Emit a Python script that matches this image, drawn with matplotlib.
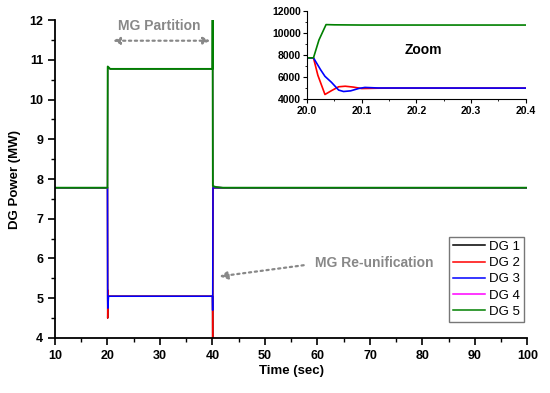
import matplotlib.pyplot as plt
from matplotlib.ticker import MultipleLocator

plt.rcParams['font.family'] = ['Liberation Sans', 'DejaVu Sans']

# main traces (MW)
t_low = [10, 20.0, 20.03, 20.07, 20.1, 20.2, 40.0, 40.03, 40.1, 100]
dg2 = [7.78, 7.78, 4.5, 5.2, 5.0, 5.05, 5.05, 4.0, 7.78, 7.78]
dg1 = [7.78, 7.78, 4.5, 5.2, 5.0, 5.05, 5.05, 4.0, 7.78, 7.78]
t_dg3 = [10, 20.0, 20.03, 20.06, 20.2, 40.0, 40.03, 40.1, 100]
dg3 = [7.78, 7.78, 5.0, 4.75, 5.05, 5.05, 4.7, 7.78, 7.78]
t_high = [10, 20.0, 20.05, 20.5, 40.0, 40.03, 40.08, 40.6, 42, 100]
dg5 = [7.78, 7.78, 10.83, 10.77, 10.77, 12.0, 7.82, 7.8, 7.78, 7.78]
dg4 = [7.78, 7.78, 10.83, 10.77, 10.77, 12.0, 7.82, 7.8, 7.78, 7.78]

# zoomed traces (kW)
zt_green = [20.0, 20.012, 20.022, 20.035, 20.05, 20.1, 20.4]
z_green = [7780, 7780, 9400, 10800, 10780, 10760, 10760]
zt_red = [20.0, 20.012, 20.02, 20.033, 20.045, 20.058, 20.07, 20.085, 20.1, 20.13, 20.16, 20.4]
z_red = [7780, 7780, 6200, 4450, 4800, 5150, 5200, 5120, 4990, 5020, 5030, 5030]
zt_blue = [20.0, 20.012, 20.025, 20.033, 20.045, 20.058, 20.067, 20.08, 20.095, 20.106, 20.13, 20.4]
z_blue = [7780, 7780, 6700, 6100, 5550, 4850, 4720, 4780, 5000, 5090, 5040, 5030]

labels = ['DG 1', 'DG 2', 'DG 3', 'DG 4', 'DG 5']
colors = ['black', 'red', 'blue', 'magenta', 'green']

fig = plt.figure(figsize=(5.5, 3.93), dpi=100)
ax = fig.add_axes([0.1, 0.14, 0.859, 0.809])

ax.plot(t_low, dg1, color=colors[0], lw=1.0, label=labels[0])
ax.plot(t_low, dg2, color=colors[1], lw=1.0, label=labels[1])
ax.plot(t_dg3, dg3, color=colors[2], lw=1.1, label=labels[2])
ax.plot(t_high, dg4, color=colors[3], lw=1.0, label=labels[3])
ax.plot(t_high, dg5, color=colors[4], lw=1.4, label=labels[4])

ax.set_xlim(10, 100)
ax.set_ylim(4, 12)
ax.xaxis.set_major_locator(MultipleLocator(10))
ax.xaxis.set_minor_locator(MultipleLocator(5))
ax.yaxis.set_major_locator(MultipleLocator(1))
ax.yaxis.set_minor_locator(MultipleLocator(0.5))
for s in ['top', 'right']:
    ax.spines[s].set_visible(False)
for s in ['left', 'bottom']:
    ax.spines[s].set_linewidth(1.3)
ax.tick_params(which='major', length=5, width=1.2, labelsize=9)
ax.tick_params(which='minor', length=3, width=1.0)
for lab in ax.get_xticklabels() + ax.get_yticklabels():
    lab.set_fontweight('bold')
ax.set_xlabel('Time (sec)', fontsize=9.5, fontweight='bold', labelpad=2)
ax.set_ylabel('DG Power (MW)', fontsize=9.5, fontweight='bold', labelpad=6)

leg = ax.legend(loc='lower right', bbox_to_anchor=(0.992, 0.051), borderaxespad=0,
                fontsize=9.5, handlelength=2.4, handletextpad=0.3, labelspacing=0.3,
                borderpad=0.3, fancybox=False, framealpha=1)
leg.get_frame().set_edgecolor('#777777')
leg.get_frame().set_linewidth(1.0)
for line in leg.get_lines():
    line.set_linewidth(1.1)

grey = '#888888'
ax.text(29.9, 11.85, 'MG Partition', color=grey, fontsize=10, fontweight='bold',
        ha='center', va='center')
ax.annotate('', xy=(20.5, 11.48), xytext=(40.1, 11.48),
            arrowprops=dict(arrowstyle='<|-|>', color=grey, lw=1.6, ls=':',
                            mutation_scale=10))
ax.text(70.8, 5.89, 'MG Re-unification', color=grey, fontsize=10, fontweight='bold',
        ha='center', va='center')
ax.annotate('', xy=(40.8, 5.54), xytext=(57.9, 5.84),
            arrowprops=dict(arrowstyle='-|>', color=grey, lw=1.6, ls=':',
                            mutation_scale=12))

# inset
axi = fig.add_axes([0.558, 0.747, 0.398, 0.224])
axi.plot(zt_red, z_red, color='red', lw=1.2)
axi.plot(zt_blue, z_blue, color='blue', lw=1.2)
axi.plot(zt_green, z_green, color='green', lw=1.2)
axi.set_xlim(20.0, 20.4)
axi.set_ylim(4000, 12000)
axi.xaxis.set_major_locator(MultipleLocator(0.1))
axi.xaxis.set_minor_locator(MultipleLocator(0.05))
axi.yaxis.set_major_locator(MultipleLocator(2000))
axi.yaxis.set_minor_locator(MultipleLocator(1000))
axi.xaxis.set_major_formatter(plt.FormatStrFormatter('%.1f'))
for s in ['top', 'right']:
    axi.spines[s].set_visible(False)
axi.tick_params(which='major', length=3, width=0.8, labelsize=7.5, pad=1.5)
axi.tick_params(which='minor', length=1.5, width=0.6)
for lab in axi.get_xticklabels() + axi.get_yticklabels():
    lab.set_fontweight('bold')
axi.text(20.212, 8450, 'Zoom', fontsize=10, fontweight='bold', ha='center', va='center')

fig.savefig('out.png', dpi=100)
